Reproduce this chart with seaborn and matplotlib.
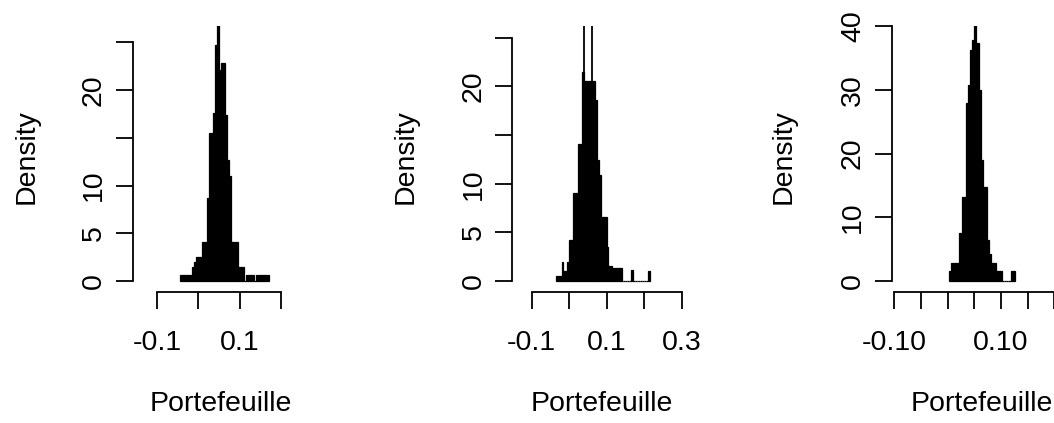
import numpy as np
import pandas as pd
import matplotlib
matplotlib.use("Agg")
import matplotlib.pyplot as plt
import seaborn as sns

# ---------------- data ----------------
x_label = "Portefeuille"
y_label = "Density"

# Panel 1
p1_bin_start = -0.045
p1_bin_width = 0.005
p1_density = [0.6, 0.6, 0.6, 0.6, 0.6, 0.6, 1.5, 2.0, 2.5, 2.5, 2.5, 4.1, 4.1,
              8.7, 15.5, 15.5, 17.6, 24.7, 27.5, 22.1, 22.8, 22.8, 17.4, 12.7,
              11.0, 4.1, 4.1, 4.1, 1.5, 1.5, 1.5, 0.0, 0.6, 0.6, 0.6, 0.6, 0.0,
              0.6, 0.6, 0.6, 0.6, 0.6, 0.6]
p1_xticks = [-0.1, 0.0, 0.1, 0.2]
p1_xticklabels = ["-0.1", "", "0.1", ""]
p1_yticks = [0, 5, 10, 15, 20, 25]
p1_yticklabels = ["0", "5", "10", "", "20", ""]

# Panel 2
p2_bin_start = -0.035
p2_bin_width = 0.005
p2_density = [0.5, 0.5, 0.5, 2.0, 1.0, 1.0, 2.0, 4.2, 4.2, 9.0, 9.0, 9.0, 14.1,
              14.1, 21.5, 20.6, 20.6, 20.6, 20.6, 20.6, 20.6, 18.6, 12.4, 10.9,
              6.6, 6.6, 6.6, 3.5, 1.5, 1.5, 1.3, 1.3, 1.3, 1.3, 1.3, 0.0, 0.0,
              0.0, 0.0, 0.0, 1.1, 0.0, 0.0, 0.0, 0.0, 0.0, 0.0, 0.0, 0.0, 1.0]
p2_peak_edges = [0.04, 0.06]      # tallest bar, drawn as an outline (clipped)
p2_peak_density = [30.0]
p2_xticks = [-0.1, 0.0, 0.1, 0.2, 0.3]
p2_xticklabels = ["-0.1", "", "0.1", "", "0.3"]
p2_yticks = [0, 5, 10, 15, 20, 25]
p2_yticklabels = ["0", "5", "10", "", "20", ""]

# Panel 3
p3_bin_start = 0.002
p3_bin_width = 0.004
p3_density = [1.5, 2.8, 2.8, 2.8, 2.8, 7.5, 13.2, 13.2, 27.9, 30.7, 36.2, 37.8,
              40.5, 37.3, 30.0, 19.0, 14.8, 14.8, 6.4, 4.3, 2.8, 2.8, 1.5, 1.5,
              1.5, 0.0, 0.0, 0.0, 0.0, 1.5, 1.5]
p3_xticks = [-0.10, -0.05, 0.00, 0.05, 0.10, 0.15, 0.20]
p3_xticklabels = ["-0.10", "", "", "", "0.10", "", ""]
p3_yticks = [0, 10, 20, 30, 40]
p3_yticklabels = ["0", "10", "20", "30", "40"]

# ---------------- styling ----------------
sns.set_style("white")
plt.rcParams["font.family"] = ["Liberation Sans", "DejaVu Sans"]
FS = 20.5
LW = 1.3

W, H = 1054, 423
fig = plt.figure(figsize=(W / 100, H / 100), dpi=100)

# layout in pixels: left, right, top, bottom of plot region, and data->pixel anchors
layouts = [
    dict(left=132.7, right=309.3, top=26, bottom=291.7, x0=198.3, xs=413.0, y0=281, ys=9.54,
         dens_x=27, lab_x=221),
    dict(left=512.3, right=691.0, top=26, bottom=291.7, x0=569.0, xs=375.0, y0=281, ys=9.73,
         dens_x=406, lab_x=601.7),
    dict(left=891.7, right=1072.0, top=26, bottom=291.7, x0=947.7, xs=533.3, y0=281, ys=6.375,
         dens_x=784, lab_x=982),
]
panels = [
    (p1_bin_start, p1_bin_width, p1_density, p1_xticks, p1_xticklabels, p1_yticks, p1_yticklabels),
    (p2_bin_start, p2_bin_width, p2_density, p2_xticks, p2_xticklabels, p2_yticks, p2_yticklabels),
    (p3_bin_start, p3_bin_width, p3_density, p3_xticks, p3_xticklabels, p3_yticks, p3_yticklabels),
]

for i, (lay, pan) in enumerate(zip(layouts, panels)):
    start, width, dens, xt, xtl, yt, ytl = pan
    L, R, T, B = lay["left"], lay["right"], lay["top"], lay["bottom"]
    ax = fig.add_axes([L / W, 1 - B / H, (R - L) / W, (B - T) / H])

    edges = start + width * np.arange(len(dens) + 1)
    df = pd.DataFrame({"value": (edges[:-1] + edges[1:]) / 2, "density": dens})
    sns.histplot(data=df, x="value", weights="density", bins=[float(e) for e in edges],
                 stat="count", color="black", edgecolor="black", linewidth=0.9,
                 alpha=1.0, ax=ax)
    if i == 1:
        pe = np.array(p2_peak_edges)
        dfp = pd.DataFrame({"value": (pe[:-1] + pe[1:]) / 2, "density": p2_peak_density})
        sns.histplot(data=dfp, x="value", weights="density", bins=list(p2_peak_edges),
                     stat="count", fill=False, color="black", linewidth=1.3, ax=ax)

    ax.set_xlim((L - lay["x0"]) / lay["xs"], (R - lay["x0"]) / lay["xs"])
    ax.set_ylim((lay["y0"] - B) / lay["ys"], (lay["y0"] - T) / lay["ys"])

    for s in ["top", "right"]:
        ax.spines[s].set_visible(False)
    for s in ["left", "bottom"]:
        ax.spines[s].set_linewidth(LW)
        ax.spines[s].set_color("black")
        ax.spines[s].set_capstyle("projecting")
    ax.spines["left"].set_bounds(yt[0], yt[-1])
    ax.spines["bottom"].set_bounds(xt[0], xt[-1])

    ax.set_xticks(xt)
    ax.set_xticklabels(xtl)
    ax.set_yticks(yt)
    ax.set_yticklabels(ytl, rotation=90, va="center")
    ax.tick_params(axis="both", which="major", direction="out", length=12.5, width=LW,
                   color="black", labelsize=FS, labelcolor="black",
                   bottom=True, left=True, top=False, right=False)
    ax.tick_params(axis="x", pad=15)
    ax.tick_params(axis="y", pad=6)
    ax.grid(False)

    ax.set_xlabel(x_label, fontsize=FS, color="black")
    ax.set_ylabel(y_label, fontsize=FS, color="black")
    ax.xaxis.label.set(va="baseline", ha="center")
    ax.yaxis.label.set(va="center", ha="center")
    ax.xaxis.set_label_coords((lay["lab_x"] - L) / (R - L), (B - 411) / (B - T))
    ax.yaxis.set_label_coords((lay["dens_x"] - L) / (R - L), (B - 157) / (B - T))

fig.savefig("out.png", dpi=100, facecolor="white")
